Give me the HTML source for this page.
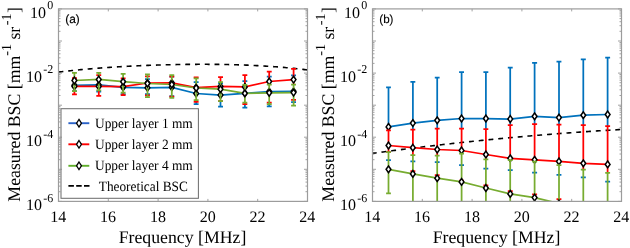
<!DOCTYPE html><html><head><meta charset="utf-8"><style>html,body{margin:0;padding:0;background:#fff;width:630px;height:248px;overflow:hidden}svg{display:block;font-family:"Liberation Serif",serif;will-change:transform;text-rendering:geometricPrecision}</style></head><body><svg width="630" height="248" viewBox="0 0 630 248" font-family="Liberation Serif, serif" fill="#000"><defs><clipPath id="cl"><rect x="58.5" y="8.9" width="249.0" height="192.5"/></clipPath><clipPath id="cr"><rect x="372.5" y="8.9" width="249.0" height="192.5"/></clipPath></defs><rect width="630" height="248" fill="#fff"/><polyline points="58.50,72.05 60.00,71.87 61.50,71.69 63.00,71.52 64.50,71.35 66.00,71.18 67.50,71.02 69.00,70.85 70.50,70.70 72.00,70.54 73.50,70.38 75.00,70.23 76.50,70.08 78.00,69.94 79.50,69.79 81.00,69.65 82.50,69.51 84.00,69.38 85.50,69.24 87.00,69.11 88.50,68.98 90.00,68.85 91.50,68.72 93.00,68.60 94.50,68.48 96.00,68.36 97.50,68.24 99.00,68.13 100.50,68.02 102.00,67.90 103.50,67.80 105.00,67.69 106.50,67.58 108.00,67.48 109.50,67.38 111.00,67.28 112.50,67.18 114.00,67.09 115.50,66.99 117.00,66.90 118.50,66.81 120.00,66.72 121.50,66.63 123.00,66.55 124.50,66.47 126.00,66.39 127.50,66.31 129.00,66.23 130.50,66.15 132.00,66.08 133.50,66.00 135.00,65.93 136.50,65.86 138.00,65.79 139.50,65.73 141.00,65.66 142.50,65.60 144.00,65.53 145.50,65.47 147.00,65.42 148.50,65.36 150.00,65.30 151.50,65.25 153.00,65.19 154.50,65.14 156.00,65.09 157.50,65.05 159.00,65.00 160.50,64.95 162.00,64.91 163.50,64.87 165.00,64.83 166.50,64.79 168.00,64.75 169.50,64.71 171.00,64.68 172.50,64.65 174.00,64.61 175.50,64.58 177.00,64.56 178.50,64.53 180.00,64.50 181.50,64.48 183.00,64.46 184.50,64.44 186.00,64.42 187.50,64.40 189.00,64.38 190.50,64.37 192.00,64.36 193.50,64.35 195.00,64.34 196.50,64.33 198.00,64.32 199.50,64.32 201.00,64.31 202.50,64.31 204.00,64.31 205.50,64.32 207.00,64.32 208.50,64.33 210.00,64.33 211.50,64.34 213.00,64.35 214.50,64.37 216.00,64.38 217.50,64.40 219.00,64.42 220.50,64.44 222.00,64.46 223.50,64.49 225.00,64.51 226.50,64.54 228.00,64.57 229.50,64.60 231.00,64.64 232.50,64.68 234.00,64.71 235.50,64.76 237.00,64.80 238.50,64.84 240.00,64.89 241.50,64.94 243.00,64.99 244.50,65.05 246.00,65.11 247.50,65.17 249.00,65.23 250.50,65.29 252.00,65.36 253.50,65.43 255.00,65.50 256.50,65.58 258.00,65.65 259.50,65.73 261.00,65.82 262.50,65.90 264.00,65.99 265.50,66.08 267.00,66.18 268.50,66.27 270.00,66.37 271.50,66.47 273.00,66.58 274.50,66.69 276.00,66.80 277.50,66.92 279.00,67.04 280.50,67.16 282.00,67.28 283.50,67.41 285.00,67.54 286.50,67.68 288.00,67.82 289.50,67.96 291.00,68.11 292.50,68.26 294.00,68.41 295.50,68.57 297.00,68.73 298.50,68.89 300.00,69.06 301.50,69.23 303.00,69.41 304.50,69.59 306.00,69.78 307.50,69.96" fill="none" stroke="#000" stroke-width="1.6" stroke-dasharray="4.90 4.87" stroke-dashoffset="0.00" clip-path="url(#cl)"/><g stroke="#0072BD" stroke-width="1.75" clip-path="url(#cl)"><line x1="72.0" y1="78.5" x2="76.9" y2="78.5"/><line x1="72.0" y1="91.0" x2="76.9" y2="91.0"/><line x1="96.3" y1="79.0" x2="101.2" y2="79.0"/><line x1="96.3" y1="91.6" x2="101.2" y2="91.6"/><line x1="120.7" y1="80.5" x2="125.6" y2="80.5"/><line x1="120.7" y1="94.0" x2="125.6" y2="94.0"/><line x1="145.0" y1="79.1" x2="149.9" y2="79.1"/><line x1="145.0" y1="94.0" x2="149.9" y2="94.0"/><line x1="169.4" y1="76.7" x2="174.2" y2="76.7"/><line x1="169.4" y1="96.2" x2="174.2" y2="96.2"/><line x1="196.2" y1="101.2" x2="196.2" y2="104.0"/><line x1="193.7" y1="82.0" x2="198.6" y2="82.0"/><line x1="193.7" y1="104.0" x2="198.6" y2="104.0"/><line x1="220.5" y1="100.6" x2="220.5" y2="106.6"/><line x1="218.1" y1="83.0" x2="223.0" y2="83.0"/><line x1="218.1" y1="106.6" x2="223.0" y2="106.6"/><line x1="244.9" y1="103.4" x2="244.9" y2="107.5"/><line x1="242.4" y1="81.2" x2="247.3" y2="81.2"/><line x1="242.4" y1="107.5" x2="247.3" y2="107.5"/><line x1="269.2" y1="103.4" x2="269.2" y2="106.4"/><line x1="266.8" y1="76.6" x2="271.7" y2="76.6"/><line x1="266.8" y1="106.4" x2="271.7" y2="106.4"/><line x1="291.1" y1="75.3" x2="296.0" y2="75.3"/><line x1="291.1" y1="102.2" x2="296.0" y2="102.2"/><polyline points="74.4,85.3 98.8,84.9 123.1,87.3 147.5,87.8 171.8,87.3 196.2,93.5 220.5,95.0 244.9,93.3 269.2,91.6 293.6,91.3" fill="none"/></g><g fill="#fff" stroke="#000" stroke-width="1.5" clip-path="url(#cl)"><path d="M74.40 81.95L76.80 85.30L74.40 88.65L72.00 85.30Z"/><path d="M98.75 81.55L101.15 84.90L98.75 88.25L96.35 84.90Z"/><path d="M123.10 83.95L125.50 87.30L123.10 90.65L120.70 87.30Z"/><path d="M147.45 84.45L149.85 87.80L147.45 91.15L145.05 87.80Z"/><path d="M171.80 83.95L174.20 87.30L171.80 90.65L169.40 87.30Z"/><path d="M196.15 90.15L198.55 93.50L196.15 96.85L193.75 93.50Z"/><path d="M220.50 91.65L222.90 95.00L220.50 98.35L218.10 95.00Z"/><path d="M244.85 89.95L247.25 93.30L244.85 96.65L242.45 93.30Z"/><path d="M269.20 88.25L271.60 91.60L269.20 94.95L266.80 91.60Z"/><path d="M293.55 87.95L295.95 91.30L293.55 94.65L291.15 91.30Z"/></g><g stroke="#FF0000" stroke-width="1.75" clip-path="url(#cl)"><line x1="74.4" y1="90.5" x2="74.4" y2="94.4"/><line x1="72.0" y1="78.0" x2="76.9" y2="78.0"/><line x1="72.0" y1="94.4" x2="76.9" y2="94.4"/><line x1="98.8" y1="89.8" x2="98.8" y2="95.8"/><line x1="96.3" y1="75.2" x2="101.2" y2="75.2"/><line x1="96.3" y1="95.8" x2="101.2" y2="95.8"/><line x1="123.1" y1="91.9" x2="123.1" y2="95.0"/><line x1="120.7" y1="78.3" x2="125.6" y2="78.3"/><line x1="120.7" y1="95.0" x2="125.6" y2="95.0"/><line x1="145.0" y1="76.3" x2="149.9" y2="76.3"/><line x1="145.0" y1="95.4" x2="149.9" y2="95.4"/><line x1="169.4" y1="76.5" x2="174.2" y2="76.5"/><line x1="169.4" y1="96.7" x2="174.2" y2="96.7"/><line x1="196.2" y1="77.4" x2="196.2" y2="79.0"/><line x1="196.2" y1="99.5" x2="196.2" y2="101.8"/><line x1="193.7" y1="77.4" x2="198.6" y2="77.4"/><line x1="193.7" y1="101.8" x2="198.6" y2="101.8"/><line x1="220.5" y1="77.0" x2="220.5" y2="82.6"/><line x1="220.5" y1="100.6" x2="220.5" y2="101.2"/><line x1="218.1" y1="77.0" x2="223.0" y2="77.0"/><line x1="218.1" y1="101.2" x2="223.0" y2="101.2"/><line x1="244.9" y1="75.2" x2="244.9" y2="85.4"/><line x1="244.9" y1="102.0" x2="244.9" y2="104.0"/><line x1="242.4" y1="75.2" x2="247.3" y2="75.2"/><line x1="242.4" y1="104.0" x2="247.3" y2="104.0"/><line x1="269.2" y1="71.5" x2="269.2" y2="85.1"/><line x1="266.8" y1="71.5" x2="271.7" y2="71.5"/><line x1="266.8" y1="102.5" x2="271.7" y2="102.5"/><line x1="293.6" y1="68.9" x2="293.6" y2="85.1"/><line x1="291.1" y1="68.9" x2="296.0" y2="68.9"/><line x1="291.1" y1="99.8" x2="296.0" y2="99.8"/><polyline points="74.4,86.4 98.8,86.4 123.1,86.6 147.5,83.0 171.8,82.8 196.2,87.5 220.5,86.4 244.9,86.9 269.2,81.5 293.6,79.6" fill="none"/></g><g fill="#fff" stroke="#000" stroke-width="1.5" clip-path="url(#cl)"><path d="M74.40 83.05L76.80 86.40L74.40 89.75L72.00 86.40Z"/><path d="M98.75 83.05L101.15 86.40L98.75 89.75L96.35 86.40Z"/><path d="M123.10 83.25L125.50 86.60L123.10 89.95L120.70 86.60Z"/><path d="M147.45 79.65L149.85 83.00L147.45 86.35L145.05 83.00Z"/><path d="M171.80 79.45L174.20 82.80L171.80 86.15L169.40 82.80Z"/><path d="M196.15 84.15L198.55 87.50L196.15 90.85L193.75 87.50Z"/><path d="M220.50 83.05L222.90 86.40L220.50 89.75L218.10 86.40Z"/><path d="M244.85 83.55L247.25 86.90L244.85 90.25L242.45 86.90Z"/><path d="M269.20 78.15L271.60 81.50L269.20 84.85L266.80 81.50Z"/><path d="M293.55 76.25L295.95 79.60L293.55 82.95L291.15 79.60Z"/></g><g stroke="#77AC30" stroke-width="1.75" clip-path="url(#cl)"><line x1="74.4" y1="72.8" x2="74.4" y2="91.1"/><line x1="72.0" y1="72.8" x2="76.9" y2="72.8"/><line x1="72.0" y1="91.1" x2="76.9" y2="91.1"/><line x1="98.8" y1="72.8" x2="98.8" y2="90.4"/><line x1="96.3" y1="72.8" x2="101.2" y2="72.8"/><line x1="96.3" y1="90.4" x2="101.2" y2="90.4"/><line x1="123.1" y1="73.8" x2="123.1" y2="92.5"/><line x1="120.7" y1="73.8" x2="125.6" y2="73.8"/><line x1="120.7" y1="92.5" x2="125.6" y2="92.5"/><line x1="147.5" y1="74.4" x2="147.5" y2="97.2"/><line x1="145.0" y1="74.4" x2="149.9" y2="74.4"/><line x1="145.0" y1="97.2" x2="149.9" y2="97.2"/><line x1="171.8" y1="75.1" x2="171.8" y2="97.9"/><line x1="169.4" y1="75.1" x2="174.2" y2="75.1"/><line x1="169.4" y1="97.9" x2="174.2" y2="97.9"/><line x1="196.2" y1="78.4" x2="196.2" y2="100.1"/><line x1="193.7" y1="78.4" x2="198.6" y2="78.4"/><line x1="193.7" y1="100.1" x2="198.6" y2="100.1"/><line x1="220.5" y1="82.0" x2="220.5" y2="101.2"/><line x1="218.1" y1="82.0" x2="223.0" y2="82.0"/><line x1="218.1" y1="101.2" x2="223.0" y2="101.2"/><line x1="244.9" y1="84.8" x2="244.9" y2="102.6"/><line x1="242.4" y1="84.8" x2="247.3" y2="84.8"/><line x1="242.4" y1="102.6" x2="247.3" y2="102.6"/><line x1="269.2" y1="84.5" x2="269.2" y2="104.0"/><line x1="266.8" y1="84.5" x2="271.7" y2="84.5"/><line x1="266.8" y1="104.0" x2="271.7" y2="104.0"/><line x1="293.6" y1="84.5" x2="293.6" y2="105.6"/><line x1="291.1" y1="84.5" x2="296.0" y2="84.5"/><line x1="291.1" y1="105.6" x2="296.0" y2="105.6"/><polyline points="74.4,80.5 98.8,79.5 123.1,81.7 147.5,83.5 171.8,84.5 196.2,88.0 220.5,89.2 244.9,93.3 269.2,92.8 293.6,92.6" fill="none"/></g><g fill="#fff" stroke="#000" stroke-width="1.5" clip-path="url(#cl)"><path d="M74.40 77.15L76.80 80.50L74.40 83.85L72.00 80.50Z"/><path d="M98.75 76.15L101.15 79.50L98.75 82.85L96.35 79.50Z"/><path d="M123.10 78.35L125.50 81.70L123.10 85.05L120.70 81.70Z"/><path d="M147.45 80.15L149.85 83.50L147.45 86.85L145.05 83.50Z"/><path d="M171.80 81.15L174.20 84.50L171.80 87.85L169.40 84.50Z"/><path d="M196.15 84.65L198.55 88.00L196.15 91.35L193.75 88.00Z"/><path d="M220.50 85.85L222.90 89.20L220.50 92.55L218.10 89.20Z"/><path d="M244.85 89.95L247.25 93.30L244.85 96.65L242.45 93.30Z"/><path d="M269.20 89.45L271.60 92.80L269.20 96.15L266.80 92.80Z"/><path d="M293.55 89.25L295.95 92.60L293.55 95.95L291.15 92.60Z"/></g><rect x="61" y="108.7" width="137.4" height="89.6" fill="#fff" stroke="#707070" stroke-width="1.05"/><line x1="68.4" y1="123.2" x2="89.3" y2="123.2" stroke="#2A62C8" stroke-width="1.9"/><path d="M79.0 119.4L81.45 123.2L79.0 127.0L76.55 123.2Z" fill="#fff" stroke="#000" stroke-width="1.3"/><text x="95" y="127.5" font-size="14.2" textLength="97.8" lengthAdjust="spacingAndGlyphs">Upper layer 1 mm</text><line x1="68.4" y1="144.3" x2="89.3" y2="144.3" stroke="#FF0000" stroke-width="1.9"/><path d="M79.0 140.5L81.45 144.3L79.0 148.1L76.55 144.3Z" fill="#fff" stroke="#000" stroke-width="1.3"/><text x="95" y="148.6" font-size="14.2" textLength="97.8" lengthAdjust="spacingAndGlyphs">Upper layer 2 mm</text><line x1="68.4" y1="165.8" x2="89.3" y2="165.8" stroke="#5FAE2A" stroke-width="1.9"/><path d="M79.0 162.0L81.45 165.8L79.0 169.6L76.55 165.8Z" fill="#fff" stroke="#000" stroke-width="1.3"/><text x="95" y="170.1" font-size="14.2" textLength="97.8" lengthAdjust="spacingAndGlyphs">Upper layer 4 mm</text><line x1="68.4" y1="185.8" x2="89.5" y2="185.8" stroke="#000" stroke-width="1.8" stroke-dasharray="5.5 2.3"/><text x="98.8" y="190.8" font-size="14.2" textLength="89" lengthAdjust="spacingAndGlyphs">Theoretical BSC</text><g stroke="#8a8a8a" stroke-width="0.8"><line x1="58.5" y1="191.7" x2="60.5" y2="191.7"/><line x1="305.5" y1="191.7" x2="307.5" y2="191.7"/><line x1="58.5" y1="186.1" x2="60.5" y2="186.1"/><line x1="305.5" y1="186.1" x2="307.5" y2="186.1"/><line x1="58.5" y1="182.1" x2="60.5" y2="182.1"/><line x1="305.5" y1="182.1" x2="307.5" y2="182.1"/><line x1="58.5" y1="179.0" x2="60.5" y2="179.0"/><line x1="305.5" y1="179.0" x2="307.5" y2="179.0"/><line x1="58.5" y1="176.4" x2="60.5" y2="176.4"/><line x1="305.5" y1="176.4" x2="307.5" y2="176.4"/><line x1="58.5" y1="174.3" x2="60.5" y2="174.3"/><line x1="305.5" y1="174.3" x2="307.5" y2="174.3"/><line x1="58.5" y1="172.4" x2="60.5" y2="172.4"/><line x1="305.5" y1="172.4" x2="307.5" y2="172.4"/><line x1="58.5" y1="170.8" x2="60.5" y2="170.8"/><line x1="305.5" y1="170.8" x2="307.5" y2="170.8"/><line x1="58.5" y1="159.7" x2="60.5" y2="159.7"/><line x1="305.5" y1="159.7" x2="307.5" y2="159.7"/><line x1="58.5" y1="154.0" x2="60.5" y2="154.0"/><line x1="305.5" y1="154.0" x2="307.5" y2="154.0"/><line x1="58.5" y1="150.0" x2="60.5" y2="150.0"/><line x1="305.5" y1="150.0" x2="307.5" y2="150.0"/><line x1="58.5" y1="146.9" x2="60.5" y2="146.9"/><line x1="305.5" y1="146.9" x2="307.5" y2="146.9"/><line x1="58.5" y1="144.4" x2="60.5" y2="144.4"/><line x1="305.5" y1="144.4" x2="307.5" y2="144.4"/><line x1="58.5" y1="142.2" x2="60.5" y2="142.2"/><line x1="305.5" y1="142.2" x2="307.5" y2="142.2"/><line x1="58.5" y1="140.3" x2="60.5" y2="140.3"/><line x1="305.5" y1="140.3" x2="307.5" y2="140.3"/><line x1="58.5" y1="138.7" x2="60.5" y2="138.7"/><line x1="305.5" y1="138.7" x2="307.5" y2="138.7"/><line x1="58.5" y1="127.6" x2="60.5" y2="127.6"/><line x1="305.5" y1="127.6" x2="307.5" y2="127.6"/><line x1="58.5" y1="121.9" x2="60.5" y2="121.9"/><line x1="305.5" y1="121.9" x2="307.5" y2="121.9"/><line x1="58.5" y1="117.9" x2="60.5" y2="117.9"/><line x1="305.5" y1="117.9" x2="307.5" y2="117.9"/><line x1="58.5" y1="114.8" x2="60.5" y2="114.8"/><line x1="305.5" y1="114.8" x2="307.5" y2="114.8"/><line x1="58.5" y1="112.3" x2="60.5" y2="112.3"/><line x1="305.5" y1="112.3" x2="307.5" y2="112.3"/><line x1="58.5" y1="110.1" x2="60.5" y2="110.1"/><line x1="305.5" y1="110.1" x2="307.5" y2="110.1"/><line x1="58.5" y1="108.3" x2="60.5" y2="108.3"/><line x1="305.5" y1="108.3" x2="307.5" y2="108.3"/><line x1="58.5" y1="106.6" x2="60.5" y2="106.6"/><line x1="305.5" y1="106.6" x2="307.5" y2="106.6"/><line x1="58.5" y1="95.5" x2="60.5" y2="95.5"/><line x1="305.5" y1="95.5" x2="307.5" y2="95.5"/><line x1="58.5" y1="89.8" x2="60.5" y2="89.8"/><line x1="305.5" y1="89.8" x2="307.5" y2="89.8"/><line x1="58.5" y1="85.8" x2="60.5" y2="85.8"/><line x1="305.5" y1="85.8" x2="307.5" y2="85.8"/><line x1="58.5" y1="82.7" x2="60.5" y2="82.7"/><line x1="305.5" y1="82.7" x2="307.5" y2="82.7"/><line x1="58.5" y1="80.2" x2="60.5" y2="80.2"/><line x1="305.5" y1="80.2" x2="307.5" y2="80.2"/><line x1="58.5" y1="78.0" x2="60.5" y2="78.0"/><line x1="305.5" y1="78.0" x2="307.5" y2="78.0"/><line x1="58.5" y1="76.2" x2="60.5" y2="76.2"/><line x1="305.5" y1="76.2" x2="307.5" y2="76.2"/><line x1="58.5" y1="74.5" x2="60.5" y2="74.5"/><line x1="305.5" y1="74.5" x2="307.5" y2="74.5"/><line x1="58.5" y1="63.4" x2="60.5" y2="63.4"/><line x1="305.5" y1="63.4" x2="307.5" y2="63.4"/><line x1="58.5" y1="57.8" x2="60.5" y2="57.8"/><line x1="305.5" y1="57.8" x2="307.5" y2="57.8"/><line x1="58.5" y1="53.8" x2="60.5" y2="53.8"/><line x1="305.5" y1="53.8" x2="307.5" y2="53.8"/><line x1="58.5" y1="50.6" x2="60.5" y2="50.6"/><line x1="305.5" y1="50.6" x2="307.5" y2="50.6"/><line x1="58.5" y1="48.1" x2="60.5" y2="48.1"/><line x1="305.5" y1="48.1" x2="307.5" y2="48.1"/><line x1="58.5" y1="46.0" x2="60.5" y2="46.0"/><line x1="305.5" y1="46.0" x2="307.5" y2="46.0"/><line x1="58.5" y1="44.1" x2="60.5" y2="44.1"/><line x1="305.5" y1="44.1" x2="307.5" y2="44.1"/><line x1="58.5" y1="42.5" x2="60.5" y2="42.5"/><line x1="305.5" y1="42.5" x2="307.5" y2="42.5"/><line x1="58.5" y1="31.3" x2="60.5" y2="31.3"/><line x1="305.5" y1="31.3" x2="307.5" y2="31.3"/><line x1="58.5" y1="25.7" x2="60.5" y2="25.7"/><line x1="305.5" y1="25.7" x2="307.5" y2="25.7"/><line x1="58.5" y1="21.7" x2="60.5" y2="21.7"/><line x1="305.5" y1="21.7" x2="307.5" y2="21.7"/><line x1="58.5" y1="18.6" x2="60.5" y2="18.6"/><line x1="305.5" y1="18.6" x2="307.5" y2="18.6"/><line x1="58.5" y1="16.0" x2="60.5" y2="16.0"/><line x1="305.5" y1="16.0" x2="307.5" y2="16.0"/><line x1="58.5" y1="13.9" x2="60.5" y2="13.9"/><line x1="305.5" y1="13.9" x2="307.5" y2="13.9"/><line x1="58.5" y1="12.0" x2="60.5" y2="12.0"/><line x1="305.5" y1="12.0" x2="307.5" y2="12.0"/><line x1="58.5" y1="10.4" x2="60.5" y2="10.4"/><line x1="305.5" y1="10.4" x2="307.5" y2="10.4"/><line x1="58.5" y1="8.9" x2="62.0" y2="8.9"/><line x1="304.0" y1="8.9" x2="307.5" y2="8.9"/><line x1="58.5" y1="41.0" x2="62.0" y2="41.0"/><line x1="304.0" y1="41.0" x2="307.5" y2="41.0"/><line x1="58.5" y1="73.1" x2="62.0" y2="73.1"/><line x1="304.0" y1="73.1" x2="307.5" y2="73.1"/><line x1="58.5" y1="105.2" x2="62.0" y2="105.2"/><line x1="304.0" y1="105.2" x2="307.5" y2="105.2"/><line x1="58.5" y1="137.2" x2="62.0" y2="137.2"/><line x1="304.0" y1="137.2" x2="307.5" y2="137.2"/><line x1="58.5" y1="169.3" x2="62.0" y2="169.3"/><line x1="304.0" y1="169.3" x2="307.5" y2="169.3"/><line x1="58.5" y1="201.4" x2="62.0" y2="201.4"/><line x1="304.0" y1="201.4" x2="307.5" y2="201.4"/><line x1="58.5" y1="201.4" x2="58.5" y2="198.9"/><line x1="58.5" y1="8.9" x2="58.5" y2="11.4"/><line x1="108.3" y1="201.4" x2="108.3" y2="198.9"/><line x1="108.3" y1="8.9" x2="108.3" y2="11.4"/><line x1="158.1" y1="201.4" x2="158.1" y2="198.9"/><line x1="158.1" y1="8.9" x2="158.1" y2="11.4"/><line x1="207.9" y1="201.4" x2="207.9" y2="198.9"/><line x1="207.9" y1="8.9" x2="207.9" y2="11.4"/><line x1="257.7" y1="201.4" x2="257.7" y2="198.9"/><line x1="257.7" y1="8.9" x2="257.7" y2="11.4"/><line x1="307.5" y1="201.4" x2="307.5" y2="198.9"/><line x1="307.5" y1="8.9" x2="307.5" y2="11.4"/></g><rect x="58.5" y="8.9" width="249.0" height="192.5" fill="none" stroke="#9c9c9c" stroke-width="1.2"/><text x="65.2" y="23.4" font-family="Liberation Sans, sans-serif" font-size="11.9" stroke="#000" stroke-width="0.15">(a)</text><text x="53.3" y="9.2" font-size="12" text-anchor="end">0</text><text x="46.1" y="17.6" font-size="16" text-anchor="end">10</text><text x="53.3" y="73.4" font-size="12" text-anchor="end">-2</text><text x="42.1" y="81.8" font-size="16" text-anchor="end">10</text><text x="53.3" y="137.5" font-size="12" text-anchor="end">-4</text><text x="42.1" y="145.9" font-size="16" text-anchor="end">10</text><text x="53.3" y="201.7" font-size="12" text-anchor="end">-6</text><text x="42.1" y="210.1" font-size="16" text-anchor="end">10</text><text x="58.3" y="221.5" font-size="16" text-anchor="middle">14</text><text x="108.1" y="221.5" font-size="16" text-anchor="middle">16</text><text x="157.9" y="221.5" font-size="16" text-anchor="middle">18</text><text x="207.7" y="221.5" font-size="16" text-anchor="middle">20</text><text x="257.5" y="221.5" font-size="16" text-anchor="middle">22</text><text x="307.3" y="221.5" font-size="16" text-anchor="middle">24</text><text x="182.5" y="242.8" font-size="17.75" text-anchor="middle">Frequency [MHz]</text><text transform="translate(20.3,201.65) rotate(-90)" font-size="17.75">Measured BSC [mm<tspan font-size="14" dy="-9.2">-1</tspan><tspan dy="9.2"> sr</tspan><tspan font-size="14" dy="-9.2" dx="1.5">-1</tspan><tspan dy="9.2" dx="0.6">]</tspan></text><polyline points="372.50,153.34 374.00,153.14 375.50,152.93 377.00,152.73 378.50,152.53 380.00,152.33 381.50,152.13 383.00,151.93 384.50,151.73 386.00,151.54 387.50,151.34 389.00,151.14 390.50,150.95 392.00,150.75 393.50,150.56 395.00,150.36 396.50,150.17 398.00,149.98 399.50,149.79 401.00,149.60 402.50,149.41 404.00,149.22 405.50,149.03 407.00,148.84 408.50,148.66 410.00,148.47 411.50,148.29 413.00,148.10 414.50,147.92 416.00,147.73 417.50,147.55 419.00,147.37 420.50,147.19 422.00,147.01 423.50,146.83 425.00,146.65 426.50,146.47 428.00,146.29 429.50,146.12 431.00,145.94 432.50,145.77 434.00,145.59 435.50,145.42 437.00,145.25 438.50,145.07 440.00,144.90 441.50,144.73 443.00,144.56 444.50,144.39 446.00,144.22 447.50,144.05 449.00,143.89 450.50,143.72 452.00,143.55 453.50,143.39 455.00,143.23 456.50,143.06 458.00,142.90 459.50,142.74 461.00,142.57 462.50,142.41 464.00,142.25 465.50,142.09 467.00,141.94 468.50,141.78 470.00,141.62 471.50,141.46 473.00,141.31 474.50,141.15 476.00,141.00 477.50,140.85 479.00,140.69 480.50,140.54 482.00,140.39 483.50,140.24 485.00,140.09 486.50,139.94 488.00,139.79 489.50,139.64 491.00,139.50 492.50,139.35 494.00,139.21 495.50,139.06 497.00,138.92 498.50,138.77 500.00,138.63 501.50,138.49 503.00,138.35 504.50,138.21 506.00,138.07 507.50,137.93 509.00,137.79 510.50,137.65 512.00,137.52 513.50,137.38 515.00,137.24 516.50,137.11 518.00,136.98 519.50,136.84 521.00,136.71 522.50,136.58 524.00,136.45 525.50,136.32 527.00,136.19 528.50,136.06 530.00,135.93 531.50,135.80 533.00,135.68 534.50,135.55 536.00,135.43 537.50,135.30 539.00,135.18 540.50,135.05 542.00,134.93 543.50,134.81 545.00,134.69 546.50,134.57 548.00,134.45 549.50,134.33 551.00,134.21 552.50,134.10 554.00,133.98 555.50,133.86 557.00,133.75 558.50,133.63 560.00,133.52 561.50,133.41 563.00,133.30 564.50,133.18 566.00,133.07 567.50,132.96 569.00,132.85 570.50,132.75 572.00,132.64 573.50,132.53 575.00,132.42 576.50,132.32 578.00,132.21 579.50,132.11 581.00,132.01 582.50,131.90 584.00,131.80 585.50,131.70 587.00,131.60 588.50,131.50 590.00,131.40 591.50,131.30 593.00,131.20 594.50,131.11 596.00,131.01 597.50,130.91 599.00,130.82 600.50,130.73 602.00,130.63 603.50,130.54 605.00,130.45 606.50,130.36 608.00,130.27 609.50,130.18 611.00,130.09 612.50,130.00 614.00,129.91 615.50,129.83 617.00,129.74 618.50,129.65 620.00,129.57 621.50,129.48" fill="none" stroke="#000" stroke-width="1.6" stroke-dasharray="4.90 4.89" stroke-dashoffset="0.71" clip-path="url(#cr)"/><g stroke="#0072BD" stroke-width="1.75" clip-path="url(#cr)"><line x1="388.5" y1="87.4" x2="388.5" y2="130.9"/><line x1="388.5" y1="151.6" x2="388.5" y2="152.8"/><line x1="386.1" y1="87.4" x2="390.9" y2="87.4"/><line x1="386.1" y1="160.0" x2="390.9" y2="160.0"/><line x1="412.9" y1="81.8" x2="412.9" y2="130.1"/><line x1="410.4" y1="81.8" x2="415.3" y2="81.8"/><line x1="410.4" y1="161.3" x2="415.3" y2="161.3"/><line x1="437.2" y1="77.7" x2="437.2" y2="129.2"/><line x1="434.8" y1="77.7" x2="439.6" y2="77.7"/><line x1="434.8" y1="162.0" x2="439.6" y2="162.0"/><line x1="461.6" y1="72.1" x2="461.6" y2="129.1"/><line x1="459.1" y1="72.1" x2="464.0" y2="72.1"/><line x1="459.1" y1="165.0" x2="464.0" y2="165.0"/><line x1="485.9" y1="72.1" x2="485.9" y2="129.8"/><line x1="483.4" y1="72.1" x2="488.3" y2="72.1"/><line x1="483.4" y1="168.5" x2="488.3" y2="168.5"/><line x1="510.2" y1="67.6" x2="510.2" y2="125.7"/><line x1="507.8" y1="67.6" x2="512.7" y2="67.6"/><line x1="507.8" y1="170.0" x2="512.7" y2="170.0"/><line x1="534.6" y1="62.9" x2="534.6" y2="124.7"/><line x1="532.1" y1="62.9" x2="537.1" y2="62.9"/><line x1="532.1" y1="172.6" x2="537.1" y2="172.6"/><line x1="559.0" y1="61.5" x2="559.0" y2="125.1"/><line x1="556.5" y1="61.5" x2="561.4" y2="61.5"/><line x1="556.5" y1="174.8" x2="561.4" y2="174.8"/><line x1="583.3" y1="59.4" x2="583.3" y2="125.6"/><line x1="580.8" y1="59.4" x2="585.8" y2="59.4"/><line x1="580.8" y1="177.3" x2="585.8" y2="177.3"/><line x1="607.6" y1="57.6" x2="607.6" y2="126.6"/><line x1="605.2" y1="57.6" x2="610.1" y2="57.6"/><line x1="605.2" y1="181.5" x2="610.1" y2="181.5"/><polyline points="388.5,126.9 412.9,123.1 437.2,120.3 461.6,118.5 485.9,118.5 510.2,119.0 534.6,116.3 559.0,117.6 583.3,115.2 607.6,114.5" fill="none"/></g><g fill="#fff" stroke="#000" stroke-width="1.5" clip-path="url(#cr)"><path d="M388.50 123.55L390.90 126.90L388.50 130.25L386.10 126.90Z"/><path d="M412.85 119.75L415.25 123.10L412.85 126.45L410.45 123.10Z"/><path d="M437.20 116.95L439.60 120.30L437.20 123.65L434.80 120.30Z"/><path d="M461.55 115.15L463.95 118.50L461.55 121.85L459.15 118.50Z"/><path d="M485.90 115.15L488.30 118.50L485.90 121.85L483.50 118.50Z"/><path d="M510.25 115.65L512.65 119.00L510.25 122.35L507.85 119.00Z"/><path d="M534.60 112.95L537.00 116.30L534.60 119.65L532.20 116.30Z"/><path d="M558.95 114.25L561.35 117.60L558.95 120.95L556.55 117.60Z"/><path d="M583.30 111.85L585.70 115.20L583.30 118.55L580.90 115.20Z"/><path d="M607.65 111.15L610.05 114.50L607.65 117.85L605.25 114.50Z"/></g><g stroke="#FF0000" stroke-width="1.75" clip-path="url(#cr)"><line x1="388.5" y1="130.3" x2="388.5" y2="152.2"/><line x1="386.1" y1="130.3" x2="390.9" y2="130.3"/><line x1="386.1" y1="152.2" x2="390.9" y2="152.2"/><line x1="412.9" y1="129.5" x2="412.9" y2="155.8"/><line x1="410.4" y1="129.5" x2="415.3" y2="129.5"/><line x1="410.4" y1="171.2" x2="415.3" y2="171.2"/><line x1="437.2" y1="128.6" x2="437.2" y2="156.1"/><line x1="434.8" y1="128.6" x2="439.6" y2="128.6"/><line x1="434.8" y1="175.0" x2="439.6" y2="175.0"/><line x1="461.6" y1="128.5" x2="461.6" y2="154.1"/><line x1="459.1" y1="128.5" x2="464.0" y2="128.5"/><line x1="459.1" y1="180.5" x2="464.0" y2="180.5"/><line x1="485.9" y1="129.2" x2="485.9" y2="159.9"/><line x1="483.4" y1="129.2" x2="488.3" y2="129.2"/><line x1="483.4" y1="185.4" x2="488.3" y2="185.4"/><line x1="510.2" y1="125.1" x2="510.2" y2="160.6"/><line x1="507.8" y1="125.1" x2="512.7" y2="125.1"/><line x1="507.8" y1="191.2" x2="512.7" y2="191.2"/><line x1="534.6" y1="124.1" x2="534.6" y2="162.1"/><line x1="532.1" y1="124.1" x2="537.1" y2="124.1"/><line x1="532.1" y1="194.3" x2="537.1" y2="194.3"/><line x1="559.0" y1="124.5" x2="559.0" y2="165.7"/><line x1="556.5" y1="124.5" x2="561.4" y2="124.5"/><line x1="556.5" y1="199.2" x2="561.4" y2="199.2"/><line x1="583.3" y1="125.0" x2="583.3" y2="170.2"/><line x1="580.8" y1="125.0" x2="585.8" y2="125.0"/><line x1="580.8" y1="205.0" x2="585.8" y2="205.0"/><line x1="607.6" y1="126.0" x2="607.6" y2="173.4"/><line x1="605.2" y1="126.0" x2="610.1" y2="126.0"/><line x1="605.2" y1="208.0" x2="610.1" y2="208.0"/><polyline points="388.5,145.5 412.9,147.7 437.2,149.5 461.6,150.5 485.9,154.5 510.2,158.3 534.6,159.8 559.0,161.4 583.3,163.3 607.6,164.4" fill="none"/></g><g fill="#fff" stroke="#000" stroke-width="1.5" clip-path="url(#cr)"><path d="M388.50 142.15L390.90 145.50L388.50 148.85L386.10 145.50Z"/><path d="M412.85 144.35L415.25 147.70L412.85 151.05L410.45 147.70Z"/><path d="M437.20 146.15L439.60 149.50L437.20 152.85L434.80 149.50Z"/><path d="M461.55 147.15L463.95 150.50L461.55 153.85L459.15 150.50Z"/><path d="M485.90 151.15L488.30 154.50L485.90 157.85L483.50 154.50Z"/><path d="M510.25 154.95L512.65 158.30L510.25 161.65L507.85 158.30Z"/><path d="M534.60 156.45L537.00 159.80L534.60 163.15L532.20 159.80Z"/><path d="M558.95 158.05L561.35 161.40L558.95 164.75L556.55 161.40Z"/><path d="M583.30 159.95L585.70 163.30L583.30 166.65L580.90 163.30Z"/><path d="M607.65 161.05L610.05 164.40L607.65 167.75L605.25 164.40Z"/></g><g stroke="#77AC30" stroke-width="1.75" clip-path="url(#cr)"><line x1="388.5" y1="152.2" x2="388.5" y2="193.4"/><line x1="386.1" y1="152.2" x2="390.9" y2="152.2"/><line x1="386.1" y1="193.4" x2="390.9" y2="193.4"/><line x1="412.9" y1="155.2" x2="412.9" y2="215.0"/><line x1="410.4" y1="155.2" x2="415.3" y2="155.2"/><line x1="410.4" y1="215.0" x2="415.3" y2="215.0"/><line x1="437.2" y1="155.5" x2="437.2" y2="220.0"/><line x1="434.8" y1="155.5" x2="439.6" y2="155.5"/><line x1="434.8" y1="220.0" x2="439.6" y2="220.0"/><line x1="461.6" y1="153.5" x2="461.6" y2="225.0"/><line x1="459.1" y1="153.5" x2="464.0" y2="153.5"/><line x1="459.1" y1="225.0" x2="464.0" y2="225.0"/><line x1="485.9" y1="159.3" x2="485.9" y2="230.0"/><line x1="483.4" y1="159.3" x2="488.3" y2="159.3"/><line x1="483.4" y1="230.0" x2="488.3" y2="230.0"/><line x1="510.2" y1="160.0" x2="510.2" y2="235.0"/><line x1="507.8" y1="160.0" x2="512.7" y2="160.0"/><line x1="507.8" y1="235.0" x2="512.7" y2="235.0"/><line x1="534.6" y1="161.5" x2="534.6" y2="240.0"/><line x1="532.1" y1="161.5" x2="537.1" y2="161.5"/><line x1="532.1" y1="240.0" x2="537.1" y2="240.0"/><line x1="559.0" y1="165.1" x2="559.0" y2="240.0"/><line x1="556.5" y1="165.1" x2="561.4" y2="165.1"/><line x1="556.5" y1="240.0" x2="561.4" y2="240.0"/><line x1="583.3" y1="169.6" x2="583.3" y2="245.0"/><line x1="580.8" y1="169.6" x2="585.8" y2="169.6"/><line x1="580.8" y1="245.0" x2="585.8" y2="245.0"/><line x1="607.6" y1="172.8" x2="607.6" y2="248.0"/><line x1="605.2" y1="172.8" x2="610.1" y2="172.8"/><line x1="605.2" y1="248.0" x2="610.1" y2="248.0"/><polyline points="388.5,169.3 412.9,173.9 437.2,178.2 461.6,181.9 485.9,188.0 510.2,193.9 534.6,197.6 559.0,203.5 583.3,208.0 607.6,212.0" fill="none"/></g><g fill="#fff" stroke="#000" stroke-width="1.5" clip-path="url(#cr)"><path d="M388.50 165.95L390.90 169.30L388.50 172.65L386.10 169.30Z"/><path d="M412.85 170.55L415.25 173.90L412.85 177.25L410.45 173.90Z"/><path d="M437.20 174.85L439.60 178.20L437.20 181.55L434.80 178.20Z"/><path d="M461.55 178.55L463.95 181.90L461.55 185.25L459.15 181.90Z"/><path d="M485.90 184.65L488.30 188.00L485.90 191.35L483.50 188.00Z"/><path d="M510.25 190.55L512.65 193.90L510.25 197.25L507.85 193.90Z"/><path d="M534.60 194.25L537.00 197.60L534.60 200.95L532.20 197.60Z"/><path d="M558.95 200.15L561.35 203.50L558.95 206.85L556.55 203.50Z"/><path d="M583.30 204.65L585.70 208.00L583.30 211.35L580.90 208.00Z"/><path d="M607.65 208.65L610.05 212.00L607.65 215.35L605.25 212.00Z"/></g><g stroke="#8a8a8a" stroke-width="0.8"><line x1="372.5" y1="191.7" x2="374.5" y2="191.7"/><line x1="619.5" y1="191.7" x2="621.5" y2="191.7"/><line x1="372.5" y1="186.1" x2="374.5" y2="186.1"/><line x1="619.5" y1="186.1" x2="621.5" y2="186.1"/><line x1="372.5" y1="182.1" x2="374.5" y2="182.1"/><line x1="619.5" y1="182.1" x2="621.5" y2="182.1"/><line x1="372.5" y1="179.0" x2="374.5" y2="179.0"/><line x1="619.5" y1="179.0" x2="621.5" y2="179.0"/><line x1="372.5" y1="176.4" x2="374.5" y2="176.4"/><line x1="619.5" y1="176.4" x2="621.5" y2="176.4"/><line x1="372.5" y1="174.3" x2="374.5" y2="174.3"/><line x1="619.5" y1="174.3" x2="621.5" y2="174.3"/><line x1="372.5" y1="172.4" x2="374.5" y2="172.4"/><line x1="619.5" y1="172.4" x2="621.5" y2="172.4"/><line x1="372.5" y1="170.8" x2="374.5" y2="170.8"/><line x1="619.5" y1="170.8" x2="621.5" y2="170.8"/><line x1="372.5" y1="159.7" x2="374.5" y2="159.7"/><line x1="619.5" y1="159.7" x2="621.5" y2="159.7"/><line x1="372.5" y1="154.0" x2="374.5" y2="154.0"/><line x1="619.5" y1="154.0" x2="621.5" y2="154.0"/><line x1="372.5" y1="150.0" x2="374.5" y2="150.0"/><line x1="619.5" y1="150.0" x2="621.5" y2="150.0"/><line x1="372.5" y1="146.9" x2="374.5" y2="146.9"/><line x1="619.5" y1="146.9" x2="621.5" y2="146.9"/><line x1="372.5" y1="144.4" x2="374.5" y2="144.4"/><line x1="619.5" y1="144.4" x2="621.5" y2="144.4"/><line x1="372.5" y1="142.2" x2="374.5" y2="142.2"/><line x1="619.5" y1="142.2" x2="621.5" y2="142.2"/><line x1="372.5" y1="140.3" x2="374.5" y2="140.3"/><line x1="619.5" y1="140.3" x2="621.5" y2="140.3"/><line x1="372.5" y1="138.7" x2="374.5" y2="138.7"/><line x1="619.5" y1="138.7" x2="621.5" y2="138.7"/><line x1="372.5" y1="127.6" x2="374.5" y2="127.6"/><line x1="619.5" y1="127.6" x2="621.5" y2="127.6"/><line x1="372.5" y1="121.9" x2="374.5" y2="121.9"/><line x1="619.5" y1="121.9" x2="621.5" y2="121.9"/><line x1="372.5" y1="117.9" x2="374.5" y2="117.9"/><line x1="619.5" y1="117.9" x2="621.5" y2="117.9"/><line x1="372.5" y1="114.8" x2="374.5" y2="114.8"/><line x1="619.5" y1="114.8" x2="621.5" y2="114.8"/><line x1="372.5" y1="112.3" x2="374.5" y2="112.3"/><line x1="619.5" y1="112.3" x2="621.5" y2="112.3"/><line x1="372.5" y1="110.1" x2="374.5" y2="110.1"/><line x1="619.5" y1="110.1" x2="621.5" y2="110.1"/><line x1="372.5" y1="108.3" x2="374.5" y2="108.3"/><line x1="619.5" y1="108.3" x2="621.5" y2="108.3"/><line x1="372.5" y1="106.6" x2="374.5" y2="106.6"/><line x1="619.5" y1="106.6" x2="621.5" y2="106.6"/><line x1="372.5" y1="95.5" x2="374.5" y2="95.5"/><line x1="619.5" y1="95.5" x2="621.5" y2="95.5"/><line x1="372.5" y1="89.8" x2="374.5" y2="89.8"/><line x1="619.5" y1="89.8" x2="621.5" y2="89.8"/><line x1="372.5" y1="85.8" x2="374.5" y2="85.8"/><line x1="619.5" y1="85.8" x2="621.5" y2="85.8"/><line x1="372.5" y1="82.7" x2="374.5" y2="82.7"/><line x1="619.5" y1="82.7" x2="621.5" y2="82.7"/><line x1="372.5" y1="80.2" x2="374.5" y2="80.2"/><line x1="619.5" y1="80.2" x2="621.5" y2="80.2"/><line x1="372.5" y1="78.0" x2="374.5" y2="78.0"/><line x1="619.5" y1="78.0" x2="621.5" y2="78.0"/><line x1="372.5" y1="76.2" x2="374.5" y2="76.2"/><line x1="619.5" y1="76.2" x2="621.5" y2="76.2"/><line x1="372.5" y1="74.5" x2="374.5" y2="74.5"/><line x1="619.5" y1="74.5" x2="621.5" y2="74.5"/><line x1="372.5" y1="63.4" x2="374.5" y2="63.4"/><line x1="619.5" y1="63.4" x2="621.5" y2="63.4"/><line x1="372.5" y1="57.8" x2="374.5" y2="57.8"/><line x1="619.5" y1="57.8" x2="621.5" y2="57.8"/><line x1="372.5" y1="53.8" x2="374.5" y2="53.8"/><line x1="619.5" y1="53.8" x2="621.5" y2="53.8"/><line x1="372.5" y1="50.6" x2="374.5" y2="50.6"/><line x1="619.5" y1="50.6" x2="621.5" y2="50.6"/><line x1="372.5" y1="48.1" x2="374.5" y2="48.1"/><line x1="619.5" y1="48.1" x2="621.5" y2="48.1"/><line x1="372.5" y1="46.0" x2="374.5" y2="46.0"/><line x1="619.5" y1="46.0" x2="621.5" y2="46.0"/><line x1="372.5" y1="44.1" x2="374.5" y2="44.1"/><line x1="619.5" y1="44.1" x2="621.5" y2="44.1"/><line x1="372.5" y1="42.5" x2="374.5" y2="42.5"/><line x1="619.5" y1="42.5" x2="621.5" y2="42.5"/><line x1="372.5" y1="31.3" x2="374.5" y2="31.3"/><line x1="619.5" y1="31.3" x2="621.5" y2="31.3"/><line x1="372.5" y1="25.7" x2="374.5" y2="25.7"/><line x1="619.5" y1="25.7" x2="621.5" y2="25.7"/><line x1="372.5" y1="21.7" x2="374.5" y2="21.7"/><line x1="619.5" y1="21.7" x2="621.5" y2="21.7"/><line x1="372.5" y1="18.6" x2="374.5" y2="18.6"/><line x1="619.5" y1="18.6" x2="621.5" y2="18.6"/><line x1="372.5" y1="16.0" x2="374.5" y2="16.0"/><line x1="619.5" y1="16.0" x2="621.5" y2="16.0"/><line x1="372.5" y1="13.9" x2="374.5" y2="13.9"/><line x1="619.5" y1="13.9" x2="621.5" y2="13.9"/><line x1="372.5" y1="12.0" x2="374.5" y2="12.0"/><line x1="619.5" y1="12.0" x2="621.5" y2="12.0"/><line x1="372.5" y1="10.4" x2="374.5" y2="10.4"/><line x1="619.5" y1="10.4" x2="621.5" y2="10.4"/><line x1="372.5" y1="8.9" x2="376.0" y2="8.9"/><line x1="618.0" y1="8.9" x2="621.5" y2="8.9"/><line x1="372.5" y1="41.0" x2="376.0" y2="41.0"/><line x1="618.0" y1="41.0" x2="621.5" y2="41.0"/><line x1="372.5" y1="73.1" x2="376.0" y2="73.1"/><line x1="618.0" y1="73.1" x2="621.5" y2="73.1"/><line x1="372.5" y1="105.2" x2="376.0" y2="105.2"/><line x1="618.0" y1="105.2" x2="621.5" y2="105.2"/><line x1="372.5" y1="137.2" x2="376.0" y2="137.2"/><line x1="618.0" y1="137.2" x2="621.5" y2="137.2"/><line x1="372.5" y1="169.3" x2="376.0" y2="169.3"/><line x1="618.0" y1="169.3" x2="621.5" y2="169.3"/><line x1="372.5" y1="201.4" x2="376.0" y2="201.4"/><line x1="618.0" y1="201.4" x2="621.5" y2="201.4"/><line x1="372.5" y1="201.4" x2="372.5" y2="198.9"/><line x1="372.5" y1="8.9" x2="372.5" y2="11.4"/><line x1="422.3" y1="201.4" x2="422.3" y2="198.9"/><line x1="422.3" y1="8.9" x2="422.3" y2="11.4"/><line x1="472.1" y1="201.4" x2="472.1" y2="198.9"/><line x1="472.1" y1="8.9" x2="472.1" y2="11.4"/><line x1="521.9" y1="201.4" x2="521.9" y2="198.9"/><line x1="521.9" y1="8.9" x2="521.9" y2="11.4"/><line x1="571.7" y1="201.4" x2="571.7" y2="198.9"/><line x1="571.7" y1="8.9" x2="571.7" y2="11.4"/><line x1="621.5" y1="201.4" x2="621.5" y2="198.9"/><line x1="621.5" y1="8.9" x2="621.5" y2="11.4"/></g><rect x="372.5" y="8.9" width="249.0" height="192.5" fill="none" stroke="#9c9c9c" stroke-width="1.2"/><text x="379.3" y="23.4" font-family="Liberation Sans, sans-serif" font-size="11.6" stroke="#000" stroke-width="0.1">(b)</text><text x="367.3" y="9.2" font-size="12" text-anchor="end">0</text><text x="360.1" y="17.6" font-size="16" text-anchor="end">10</text><text x="367.3" y="73.4" font-size="12" text-anchor="end">-2</text><text x="356.1" y="81.8" font-size="16" text-anchor="end">10</text><text x="367.3" y="137.5" font-size="12" text-anchor="end">-4</text><text x="356.1" y="145.9" font-size="16" text-anchor="end">10</text><text x="367.3" y="201.7" font-size="12" text-anchor="end">-6</text><text x="356.1" y="210.1" font-size="16" text-anchor="end">10</text><text x="372.3" y="221.5" font-size="16" text-anchor="middle">14</text><text x="422.1" y="221.5" font-size="16" text-anchor="middle">16</text><text x="471.9" y="221.5" font-size="16" text-anchor="middle">18</text><text x="521.7" y="221.5" font-size="16" text-anchor="middle">20</text><text x="571.5" y="221.5" font-size="16" text-anchor="middle">22</text><text x="621.3" y="221.5" font-size="16" text-anchor="middle">24</text><text x="496.5" y="242.8" font-size="17.75" text-anchor="middle">Frequency [MHz]</text><text transform="translate(334.3,201.65) rotate(-90)" font-size="17.75">Measured BSC [mm<tspan font-size="14" dy="-9.2">-1</tspan><tspan dy="9.2"> sr</tspan><tspan font-size="14" dy="-9.2" dx="1.5">-1</tspan><tspan dy="9.2" dx="0.6">]</tspan></text></svg></body></html>
